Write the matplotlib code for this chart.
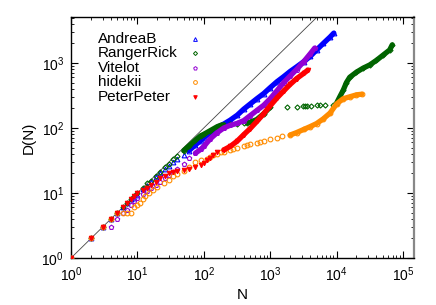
import matplotlib
matplotlib.use("Agg")
import matplotlib.pyplot as plt
import numpy as np

plt.rcParams['font.family'] = ['Liberation Sans', 'DejaVu Sans']
plt.rcParams['mathtext.fontset'] = 'custom'
plt.rcParams['mathtext.rm'] = 'Liberation Sans'

# ---- data ----
names = ["AndreaB", "RangerRick", "Vitelot", "hidekii", "PeterPeter"]
colors = ["#0000ff", "#006400", "#9400d3", "#ff8c00", "#ff0000"]

andreab_N = [1, 2, 3, 4, 5, 6, 7, 8, 9, 10, 12, 14, 16, 19, 22, 26, 30, 35, 40, 50, 60, 75, 90,
             100, 125, 160, 200, 250, 320, 400, 500, 630, 800, 1000, 1260, 1600, 2000, 2500,
             3200, 4000, 5000, 6300, 8000, 9100]
andreab_D = [1, 2, 3, 4, 5, 6, 7, 8, 8.5, 9.3, 11.5, 13, 15, 17.5, 20, 23, 26, 30, 33, 39, 45, 55, 64,
             71, 85, 102, 115, 132, 158, 195, 234, 282, 339, 417, 513, 617, 741, 871,
             1047, 1259, 1585, 1995, 2512, 2884]
andreab_band = [(60, 9100)]

rangerrick_N = [1, 2, 3, 4, 5, 6, 7, 8, 9, 10, 12, 14, 16, 19, 22, 26, 30, 35, 40, 50, 60, 75, 90,
                100, 125, 160, 180, 200, 250, 320, 400, 450, 500, 630, 800, 1000,
                1780, 2510, 3090, 3310, 3550, 4070, 5010, 5620, 6760, 8910,
                10000, 11200, 12600, 14100, 15800, 20000, 25100, 31600, 39800, 50100, 63100, 69200]
rangerrick_D = [1, 2, 3, 4, 5, 6, 7, 8, 9, 10, 12, 14, 15.5, 18.5, 21, 25, 28, 33, 37, 45, 53, 65, 76,
                80, 91, 105, 110, 112, 115, 116, 118, 120, 123, 135, 166, 209,
                209, 209, 219, 219, 219, 219, 224, 224, 224, 224,
                240, 302, 380, 500, 603, 724, 832, 933, 1096, 1318, 1585, 1905]
rangerrick_band = [(50, 200), (450, 1000), (10000, 69200)]

vitelot_N = [1, 2, 3, 4, 5, 6, 7, 8, 9, 10, 12, 14, 16, 19, 22, 26, 30, 35, 40, 50, 60, 75, 90,
             100, 125, 160, 200, 250, 320, 400, 500, 630, 800, 1000, 1260, 1600, 2000, 2500,
             3200, 4000, 4700]
vitelot_D = [1, 2, 3, 3, 4, 5, 5.5, 6.5, 7.5, 8.3, 9.5, 10.7, 12, 13.5, 15, 17, 19, 21, 23, 28, 35, 41, 47,
             52, 68, 85, 100, 110, 118, 130, 155, 186, 224, 282, 372, 500, 630, 794,
             1047, 1380, 1700]
vitelot_band = [(75, 4700)]

hidekii_N = [1, 2, 3, 4, 5, 6, 7, 8, 9, 10, 11, 12, 13, 15, 17, 20, 25, 30, 35, 40, 50, 60, 75, 90,
             110, 125, 140, 160, 180, 200, 250, 280, 320, 400, 450, 500, 630, 700, 800, 1000, 1260, 1500,
             2000, 2500, 3200, 4000, 5000, 6300, 8000, 10000, 12600, 15800, 20000, 24000]
hidekii_D = [1, 2, 3, 4, 5, 5, 5, 5, 6, 6.5, 7, 8, 9, 10, 11, 12.5, 14.5, 16, 18, 19.5, 22, 25, 30, 32,
             33.5, 36, 38, 40, 42, 43, 46, 48, 50, 52, 54, 56, 59, 61, 63, 68, 71, 74,
             78, 85, 95, 105, 117, 138, 170, 234, 282, 302, 324, 331]
hidekii_band = [(2000, 24000)]

peterpeter_N = [1, 2, 3, 4, 5, 6, 7, 8, 9, 10, 12, 14, 16, 19, 22, 26, 30, 35, 40, 50, 60, 75, 90,
                100, 112, 125, 140, 160, 200, 250, 320, 400, 500, 630, 800, 1000, 1260, 1600,
                2000, 2500, 3200, 3700]
peterpeter_D = [1, 2, 3, 4, 5, 6, 7, 8, 9, 10, 11, 12, 13.5, 15, 17, 18.5, 20, 21, 21.5, 22.5, 23, 25, 27,
                29, 32, 35, 38, 42, 46, 52, 63, 79, 98, 126, 166, 219, 288, 372,
                468, 575, 692, 776]
peterpeter_band = [(180, 3700)]

series = [
    (andreab_N, andreab_D, andreab_band, '^', 3.4, 'none'),
    (rangerrick_N, rangerrick_D, rangerrick_band, 'D', 2.6, 'none'),
    (vitelot_N, vitelot_D, vitelot_band, 'p', 3.4, 'none'),
    (hidekii_N, hidekii_D, hidekii_band, 'o', 3.4, 'none'),
    (peterpeter_N, peterpeter_D, peterpeter_band, 'v', 3.2, 'fill'),
]

fig = plt.figure(figsize=(4.36, 3.05), dpi=100)
ax = fig.add_axes([71/436, 47/305, 343/436, 241/305])

xmin, xmax = 1, 1.47e5
ymin, ymax = 1, 5100

# diagonal D = N
diag = np.array([1, ymax])
ax.plot(diag, diag, color='#444444', lw=0.6, zorder=1)

for i, (N, D, bands, mk, ms, fill) in enumerate(series):
    N = np.asarray(N, float)
    D = np.asarray(D, float)
    c = colors[i]
    for (a, b) in bands:
        m = (N >= a) & (N <= b)
        ax.plot(N[m], D[m], '-', color=c, lw=3.8, solid_capstyle='round',
                solid_joinstyle='round', zorder=2 + i)
    ax.plot(N, D, linestyle='none', marker=mk, ms=ms, mec=c,
            mfc=(c if fill == 'fill' else 'none'), mew=0.8, zorder=2 + i)

ax.set_xscale('log')
ax.set_yscale('log')
ax.set_xlim(xmin, xmax)
ax.set_ylim(ymin, ymax)

ax.tick_params(which='both', direction='in', top=True, right=True, labelsize=10)
ax.tick_params(which='major', length=5, width=0.8, pad=5)
ax.tick_params(which='minor', length=2.5, width=0.6)
ax.xaxis.set_major_locator(matplotlib.ticker.LogLocator(base=10, numticks=10))
ax.yaxis.set_major_locator(matplotlib.ticker.LogLocator(base=10, numticks=10))
ax.xaxis.set_minor_locator(matplotlib.ticker.LogLocator(base=10, subs=np.arange(2, 10), numticks=20))
ax.yaxis.set_minor_locator(matplotlib.ticker.LogLocator(base=10, subs=np.arange(2, 10), numticks=20))
ax.xaxis.set_minor_formatter(matplotlib.ticker.NullFormatter())
ax.yaxis.set_minor_formatter(matplotlib.ticker.NullFormatter())

for s in ['left', 'bottom', 'top']:
    ax.spines[s].set_linewidth(1.0)
ax.spines['right'].set_color('#888888')
ax.spines['right'].set_linewidth(1.6)

ax.set_xlabel('N', fontsize=11, labelpad=3)
ax.set_ylabel('D(N)', fontsize=11, labelpad=4)

# gnuplot-style key: text left, marker at right column
key_y = [0.909, 0.851, 0.788, 0.730, 0.668]
key_marks = [s[3] for s in series]
key_ms = [s[4] for s in series]
key_fill = [s[5] for s in series]
for i, name in enumerate(names):
    ax.text(0.079, key_y[i], name, transform=ax.transAxes, fontsize=11,
            ha='left', va='center')
    ax.plot([0.3615], [key_y[i]], transform=ax.transAxes, marker=key_marks[i],
            ms=key_ms[i] * 0.8, mec=colors[i],
            mfc=(colors[i] if key_fill[i] == 'fill' else 'none'), mew=0.7,
            linestyle='none', clip_on=False)

fig.savefig('out.png', dpi=100)
